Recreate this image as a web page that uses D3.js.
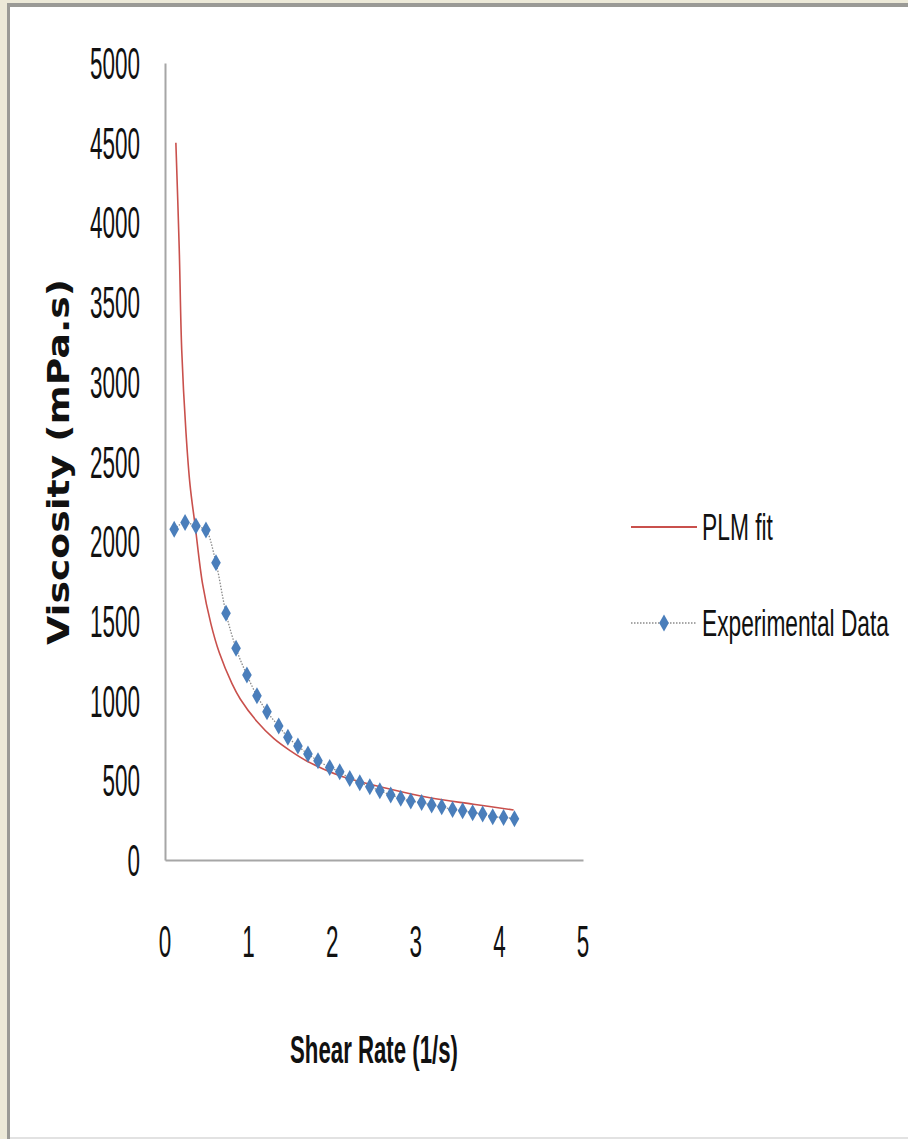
<!DOCTYPE html>
<html>
<head>
<meta charset="utf-8">
<script src="https://cdn.jsdelivr.net/npm/d3@7"></script>
<style>
  html, body { margin: 0; padding: 0; background: #ECE9D8; }
  svg { display: block; }
</style>
</head>
<body>
<svg id="chart" width="908" height="1139"></svg>
<script>
// Shear rate (1/s) and measured viscosity (mPa.s)
const shearRate = [0.11, 0.24, 0.37, 0.49, 0.61, 0.73, 0.85, 0.98, 1.10, 1.22,
                   1.36, 1.47, 1.59, 1.71, 1.83, 1.97, 2.09, 2.21, 2.33, 2.45,
                   2.57, 2.70, 2.82, 2.94, 3.07, 3.19, 3.31, 3.44, 3.56, 3.68,
                   3.80, 3.92, 4.05, 4.18];
const viscosity = [2075, 2117, 2095, 2070, 1865, 1548, 1328, 1160, 1030, 930,
                   840, 770, 715, 665, 623, 581, 553, 512, 485, 460,
                   435, 408, 387, 370, 360, 345, 334, 317, 309, 297,
                   289, 272, 267, 259];

// Power-law model curve
const fitRate = [0.13, 0.17, 0.20, 0.25, 0.30, 0.36, 0.45, 0.55, 0.65, 0.80,
                 0.90, 1.10, 1.30, 1.50, 1.70, 2.10, 2.65, 3.17, 3.69, 4.17];
const fitViscosity = [4500, 3840, 3200, 2690, 2350, 2100, 1730, 1480, 1300, 1108,
                      1010, 869, 763, 685, 620, 527, 450, 390, 350, 314];

const xTicks = [0, 1, 2, 3, 4, 5];
const yTicks = [0, 500, 1000, 1500, 2000, 2500, 3000, 3500, 4000, 4500, 5000];

const seriesNames = ["PLM fit", "Experimental Data"];
const xTitle = "Shear Rate (1/s)";
const yTitle = "Viscosity (mPa.s)";

const svg = d3.select("#chart");

// window frame and white panel
svg.append("rect").attr("x", 0).attr("y", 0).attr("width", 908).attr("height", 1139).attr("fill", "#ECE9D8");
svg.append("rect").attr("x", 10).attr("y", 7).attr("width", 898).attr("height", 1131).attr("fill", "#ffffff");
svg.append("rect").attr("x", 7).attr("y", 3).attr("width", 901).attr("height", 4).attr("fill", "#9a9a96");
svg.append("rect").attr("x", 7).attr("y", 3).attr("width", 3).attr("height", 1136).attr("fill", "#9a9a96");
svg.append("rect").attr("x", 10).attr("y", 1137).attr("width", 898).attr("height", 2).attr("fill", "#e2e2e2");

const x = d3.scaleLinear().domain([0, 5]).range([165, 583]);
const y = d3.scaleLinear().domain([0, 5000]).range([860, 63]);

const axisColor = "#a6a6a6";

// axes (lines only, labels drawn separately)
const xAxis = svg.append("g").attr("transform", `translate(0,${y(0)})`)
  .call(d3.axisBottom(x).tickValues(xTicks).tickSize(0).tickFormat(""));
const yAxis = svg.append("g").attr("transform", `translate(${x(0)},0)`)
  .call(d3.axisLeft(y).tickValues(yTicks).tickSize(0).tickFormat(""));
[xAxis, yAxis].forEach(g => {
  g.select(".domain").attr("stroke", axisColor).attr("stroke-width", 2);
});

const labelFont = "'Liberation Sans', Arial, sans-serif";
const digitW = 12.5;

// Condensed text: draw at origin, then squeeze horizontally to the wanted width
function narrowText(parent, str, px, py, width, anchor, opts) {
  const g = parent.append("g");
  const t = g.append("text")
    .attr("x", 0).attr("y", 0)
    .attr("text-anchor", anchor)
    .attr("font-family", opts.family || labelFont)
    .attr("font-weight", opts.weight || "normal")
    .attr("font-size", opts.size)
    .attr("fill", "#111")
    .text(str);
  const natural = t.node().getComputedTextLength();
  const sx = width / natural;
  g.attr("transform", `translate(${px},${py}) ${opts.rotate ? "rotate(" + opts.rotate + ") " : ""}scale(${sx},1)`);
  return g;
}

// y tick labels
const yLab = svg.append("g");
yTicks.forEach(d => narrowText(yLab, String(d), 140, y(d) + 16, String(d).length * digitW, "end", { size: 44 }));

// x tick labels
const xLab = svg.append("g");
xTicks.forEach(d => narrowText(xLab, String(d), x(d), 957, String(d).length * digitW, "middle", { size: 44 }));

// axis titles
narrowText(svg, xTitle, 374, 1063, 168, "middle", { size: 38, weight: "bold" });
narrowText(svg, yTitle, 69, 462, 366, "middle",
  { size: 31, weight: "bold", family: "'DejaVu Sans', Verdana, sans-serif", rotate: -90 });

const fitColor = "#C9504C";
const dataColor = "#4A7EBB";

// power-law fit curve
const fitData = fitRate.map((r, i) => [r, fitViscosity[i]]);
svg.append("path")
  .datum(fitData)
  .attr("fill", "none")
  .attr("stroke", fitColor)
  .attr("stroke-width", 1.6)
  .attr("d", d3.line().x(d => x(d[0])).y(d => y(d[1])).curve(d3.curveCatmullRom.alpha(0.5)));

// experimental data: dotted connector and diamond markers
const expData = shearRate.map((r, i) => [r, viscosity[i]]);
svg.append("path")
  .datum(expData)
  .attr("fill", "none")
  .attr("stroke", "#8a8a8a")
  .attr("stroke-width", 1.3)
  .attr("stroke-dasharray", "1.5,1.5")
  .attr("d", d3.line().x(d => x(d[0])).y(d => y(d[1])).curve(d3.curveMonotoneX));

const diamond = (cx, cy) => `M${cx},${cy - 8.5}L${cx + 4.8},${cy}L${cx},${cy + 8.5}L${cx - 4.8},${cy}Z`;
svg.append("g").selectAll("path").data(expData).join("path")
  .attr("d", d => diamond(x(d[0]), y(d[1])))
  .attr("fill", dataColor);

// legend
const legend = svg.append("g");
legend.append("line").attr("x1", 631).attr("x2", 697).attr("y1", 527).attr("y2", 527)
  .attr("stroke", fitColor).attr("stroke-width", 1.8);
legend.append("line").attr("x1", 631).attr("x2", 697).attr("y1", 623).attr("y2", 623)
  .attr("stroke", "#8a8a8a").attr("stroke-width", 1.3).attr("stroke-dasharray", "1.5,1.5");
legend.append("path").attr("d", diamond(664, 623)).attr("fill", dataColor);
narrowText(legend, seriesNames[0], 702, 540, 71, "start", { size: 37 });
narrowText(legend, seriesNames[1], 702, 636, 187, "start", { size: 37 });
</script>
</body>
</html>
